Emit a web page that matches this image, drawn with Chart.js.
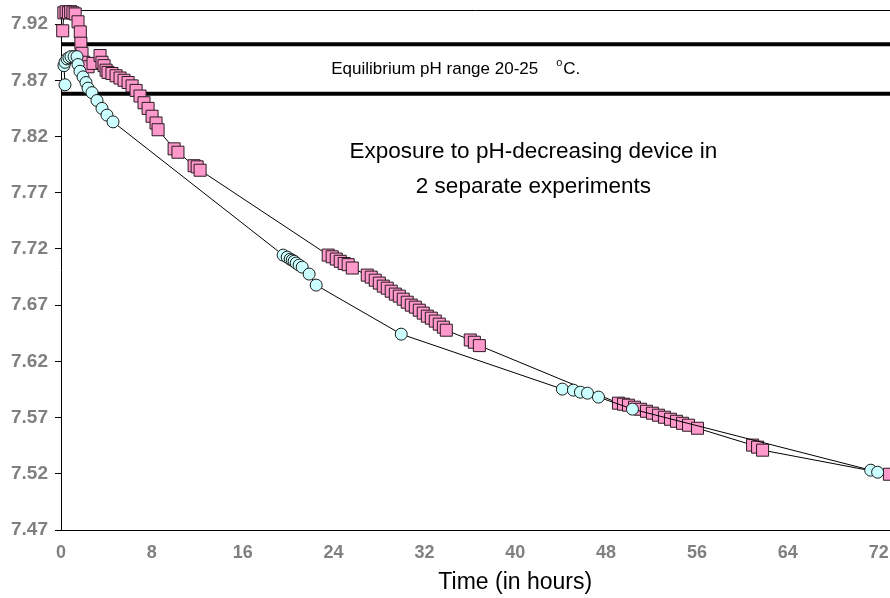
<!DOCTYPE html>
<html><head><meta charset="utf-8">
<script src="https://cdn.jsdelivr.net/npm/chart.js@4/dist/chart.umd.min.js"></script>
<style>html,body{margin:0;padding:0;background:#fff}#wrap{width:890px;height:598px}</style>
</head><body><div id="wrap"><canvas id="c" width="890" height="598"></canvas></div>
<script>
// Experiment 1 (pink squares)
const expA_time = [0.15,0.25,0.45,0.65,0.85,1.05,1.25,1.5,1.7,1.75,1.85,2.0,2.38,2.82,3.44,3.61,3.79,3.97,4.14,4.49,4.85,5.2,5.55,5.91,6.26,6.61,6.96,7.31,7.67,8.02,8.37,8.55,9.96,10.3,11.72,11.99,12.25,23.53,23.88,24.24,24.59,24.94,25.29,25.65,26.97,27.32,27.67,28.03,28.38,28.73,29.08,29.44,29.79,30.14,30.49,30.85,31.2,31.55,31.9,32.26,32.61,32.96,33.31,33.67,33.93,36.04,36.4,36.84,49.09,49.53,49.97,50.5,51.03,51.56,52.08,52.61,53.14,53.67,54.2,54.73,55.26,56.05,60.9,61.34,61.78,72.95];
const expA_pH = [7.914,7.930,7.931,7.930,7.931,7.930,7.929,7.922,7.913,7.903,7.894,7.886,7.882,7.885,7.892,7.886,7.883,7.879,7.877,7.876,7.874,7.872,7.870,7.868,7.865,7.861,7.856,7.850,7.845,7.838,7.832,7.826,7.809,7.806,7.794,7.793,7.790,7.7145,7.713,7.711,7.709,7.707,7.706,7.703,7.6967,7.6949,7.6922,7.6896,7.6869,7.6851,7.6824,7.6798,7.678,7.6753,7.6726,7.67,7.6682,7.6655,7.6629,7.6602,7.6584,7.6558,7.6531,7.6504,7.6477,7.639,7.637,7.634,7.5828,7.5819,7.581,7.5792,7.5774,7.5756,7.5739,7.5721,7.5703,7.5685,7.5667,7.5649,7.5632,7.5605,7.5455,7.5437,7.541,7.5196];
// Experiment 2 (cyan circles)
const expB_time = [0.35,0.26,0.35,0.53,0.7,0.88,1.15,1.41,1.5,1.67,1.94,2.2,2.38,2.73,3.17,3.61,4.05,4.58,19.56,19.92,20.18,20.36,20.53,20.71,20.97,21.24,21.85,22.47,29.96,44.15,45.12,45.74,46.36,47.33,50.32,71.3,71.91];
const expB_pH = [7.866,7.883,7.886,7.889,7.890,7.891,7.891,7.891,7.884,7.878,7.873,7.868,7.863,7.859,7.852,7.845,7.839,7.833,7.7145,7.7127,7.7109,7.71,7.709,7.7074,7.7056,7.7038,7.6976,7.6878,7.6442,7.5953,7.5944,7.5926,7.5917,7.5882,7.5775,7.5232,7.5214];
const xTickValues = [0,8,16,24,32,40,48,56,64,72];
const yTickValues = [7.47,7.52,7.57,7.62,7.67,7.72,7.77,7.82,7.87,7.92];
const equilibriumRange = [7.858, 7.902];
const xAxisTitle = 'Time (in hours)';
const noteEquilibrium = 'Equilibrium pH range 20-25';
const noteExposure = ['Exposure to pH-decreasing device in', '2 separate experiments'];

const FONT = '"Liberation Sans", Arial, Helvetica, sans-serif';

function toPoints(xs, ys) { return xs.map((x, i) => ({ x: x, y: ys[i] })); }

const overlay = {
  id: 'overlay',
  beforeDatasetsDraw(chart) {
    const ctx = chart.ctx, a = chart.chartArea, xs = chart.scales.x, ys = chart.scales.y;
    ctx.save();
    ctx.strokeStyle = '#000'; ctx.lineWidth = 1;
    ctx.beginPath(); ctx.moveTo(a.left, Math.round(a.top) + 0.5); ctx.lineTo(a.right, Math.round(a.top) + 0.5); ctx.stroke();
    ctx.lineWidth = 4;
    equilibriumRange.forEach(v => {
      const y = ys.getPixelForValue(v);
      ctx.beginPath(); ctx.moveTo(a.left, y); ctx.lineTo(a.right, y); ctx.stroke();
    });
    ctx.fillStyle = '#000';
    ctx.textBaseline = 'middle';
    ctx.textAlign = 'left';
    ctx.font = '17px ' + FONT;
    const ey = ys.getPixelForValue((equilibriumRange[0] + equilibriumRange[1]) / 2);
    const ex = xs.getPixelForValue(23.8);
    ctx.fillText(noteEquilibrium, ex, ey);
    const w = ctx.measureText(noteEquilibrium).width;
    ctx.font = '11px ' + FONT;
    ctx.fillText('o', ex + w + 18, ey - 6);
    ctx.font = '17px ' + FONT;
    ctx.fillText('C.', ex + w + 25, ey);
    ctx.textAlign = 'center';
    ctx.font = '22.5px ' + FONT;
    const cx = xs.getPixelForValue(41.6);
    ctx.fillText(noteExposure[0], cx, ys.getPixelForValue(7.8065));
    ctx.fillText(noteExposure[1], cx, ys.getPixelForValue(7.7755));
    ctx.restore();
  },
  afterDraw(chart) {
    const ctx = chart.ctx, xs = chart.scales.x;
    ctx.save();
    ctx.fillStyle = '#000';
    ctx.font = '23px ' + FONT;
    ctx.textAlign = 'center';
    ctx.textBaseline = 'middle';
    ctx.fillText(xAxisTitle, xs.getPixelForValue(40), 583);
    ctx.restore();
  }
};

new Chart(document.getElementById('c'), {
  type: 'scatter',
  data: {
    datasets: [
      {
        label: 'Experiment 2',
        data: toPoints(expB_time, expB_pH),
        showLine: true,
        borderColor: '#000',
        borderWidth: 1,
        pointStyle: 'circle',
        pointRadius: 6,
        pointBackgroundColor: '#ccffff',
        pointBorderColor: '#1a1a1a',
        pointBorderWidth: 1,
        clip: false
      },
      {
        label: 'Experiment 1',
        data: toPoints(expA_time, expA_pH),
        showLine: true,
        borderColor: '#000',
        borderWidth: 1,
        pointStyle: 'rect',
        pointRadius: 8.5,
        pointBackgroundColor: '#ff99cc',
        pointBorderColor: '#2a1a22',
        pointBorderWidth: 1,
        clip: false
      }
    ]
  },
  options: {
    responsive: false,
    animation: false,
    layout: { autoPadding: false, padding: { top: 10, right: 0, left: 0, bottom: 0 } },
    plugins: { legend: { display: false }, tooltip: { enabled: false } },
    scales: {
      x: {
        type: 'linear', min: 0, max: 73,
        afterBuildTicks: s => { s.ticks = xTickValues.map(v => ({ value: v })); },
        afterFit: s => { s.height = 68; s.paddingLeft = 0; s.paddingRight = 0; },
        grid: { drawOnChartArea: false, drawTicks: false },
        border: { display: true, color: '#000', width: 1 },
        ticks: { color: '#808080', padding: 12, maxRotation: 0, autoSkip: false,
          font: { family: FONT, size: 18, weight: 'bold' } }
      },
      y: {
        type: 'linear', min: 7.47, max: 7.9325,
        afterBuildTicks: s => { s.ticks = yTickValues.map(v => ({ value: v })); },
        afterFit: s => { s.width = 61; s.paddingTop = 0; s.paddingBottom = 0; },
        grid: { drawOnChartArea: false, drawTicks: true, tickLength: 6, color: '#000' },
        border: { display: true, color: '#000', width: 1 },
        ticks: { color: '#808080', padding: 7, autoSkip: false,
          callback: v => Number(v).toFixed(2),
          font: { family: FONT, size: 19, weight: 'bold' } }
      }
    }
  },
  plugins: [overlay]
});
</script></body></html>
